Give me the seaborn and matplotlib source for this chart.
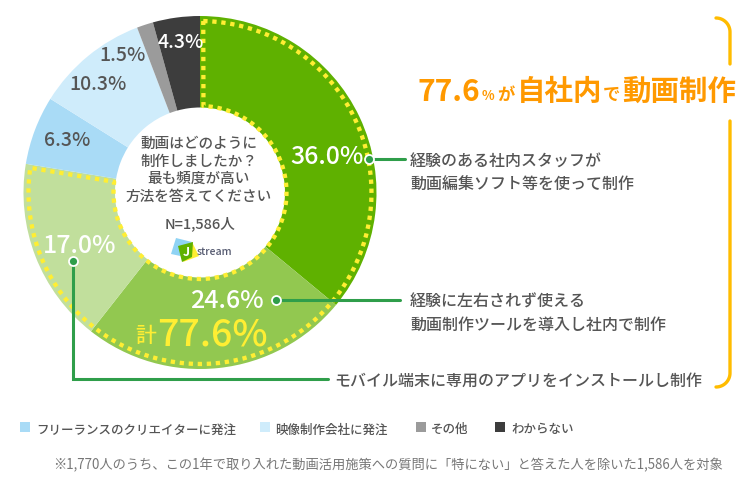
import numpy as np
import pandas as pd
import matplotlib
matplotlib.use('Agg')
import matplotlib.pyplot as plt
from matplotlib.patches import Polygon
import seaborn as sns

# values, clockwise from 12 o'clock
categories = ['経験のある社内スタッフ', 'ツール導入', 'モバイル端末アプリ', 'フリーランスのクリエイターに発注',
              '映像制作会社に発注', 'その他', 'わからない']
values = [36.0, 24.6, 17.0, 6.3, 10.3, 1.5, 4.3]
wedge_colors = ['#5fb100', '#92c850', '#c1df9c', '#a9dbf6', '#cfecfb', '#9b9b9b', '#3d3d3d']
in_house_share = 77.6

legend_labels = ['フリーランスのクリエイターに発注', '映像制作会社に発注', 'その他', 'わからない']
legend_colors = ['#a9dbf6', '#cfecfb', '#9b9b9b', '#3d3d3d']
question_lines = ['動画はどのように', '制作しましたか？', '最も頻度が高い', '方法を答えてください']

W, H = 753, 485
GRAY = '#555555'
GREEN = '#2f9e4a'
YELLOW = '#ffee33'
ORANGE = '#ff9900'
BRACKET = '#ffbc00'

sns.set_theme(style='white')
plt.rcParams['font.family'] = ['Noto Sans CJK JP', 'DejaVu Sans']

fig = plt.figure(figsize=(W / 100, H / 100), dpi=100, facecolor='white')

# Donut
cx, cy, R, r_in = 200, 193.5, 176.5, 85
ax_pie = fig.add_axes([(cx - R) / W, (H - cy - R) / H, 2 * R / W, 2 * R / H])
ax_pie.pie(values, colors=sns.color_palette(wedge_colors), startangle=90, counterclock=False,
           radius=1, wedgeprops={'width': 1 - r_in / R, 'linewidth': 0})
ax_pie.set_xlim(-1, 1)
ax_pie.set_ylim(-1, 1)

# Yellow dotted outline around the in-house wedges
end = np.deg2rad(in_house_share * 3.6)
r1, r2 = (R - 5) / R, (r_in + 1.5) / R
t_out = np.linspace(0.019, end - 0.019, 200)
t_in = np.linspace(end - 0.04, 0.04, 100)
px = np.r_[r1 * np.sin(t_out), r2 * np.sin(t_in)]
py = np.r_[r1 * np.cos(t_out), r2 * np.cos(t_in)]
px = np.r_[px, px[0]]
py = np.r_[py, py[0]]
ax_pie.plot(px, py, color=YELLOW, lw=3.1, dashes=(1, 1.1), dash_capstyle='butt')

# Overlay in pixel coordinates
ax = fig.add_axes([0, 0, 1, 1], facecolor='none')
ax.set_xlim(0, W)
ax.set_ylim(H, 0)
ax.axis('off')


def label(x, y, s, size, color=GRAY, weight='normal', ha='center'):
    # va=center sits a little high for this font, so push down with the size
    ax.text(x, y + size * 0.2, s, fontsize=size, color=color, fontweight=weight, ha=ha, va='center')


# Percent labels
label(327, 153, f'{values[0]:.1f}%', 18, 'white', 'medium')
label(227, 297, f'{values[1]:.1f}%', 18, 'white', 'medium')
label(80, 242, f'{values[2]:.1f}%', 18, 'white', 'medium')
label(67, 137.5, f'{values[3]:.1f}%', 14, GRAY, 'medium')
label(98, 82, f'{values[4]:.1f}%', 14, GRAY, 'medium')
label(123, 52.5, f'{values[5]:.1f}%', 14, GRAY, 'medium')
label(181, 40, f'{values[6]:.1f}%', 14, 'white', 'medium')
label(146, 333, '計', 15, YELLOW, 'medium')
label(212, 329, f'{in_house_share:.1f}%', 27, YELLOW, 'medium')

# Centre question
for y, line in zip([142, 160, 177, 195], question_lines):
    label(199, y, line, 10.5, GRAY, 'medium')
label(200, 222, 'N=1,586人', 10.5, GRAY, 'medium')

# Logo
ax.add_patch(Polygon([(176, 239), (171, 255), (185, 258), (192, 243)], color='#8fd3f4', lw=0))
ax.add_patch(Polygon([(192, 243), (199, 257), (183, 263)], color=YELLOW, lw=0))
ax.add_patch(Polygon([(178, 247), (193, 243), (192, 258), (182, 263)], color='#5fb100', lw=0))
label(186, 251, 'J', 9, 'white', 'bold')
ax.text(197, 252, 'stream', fontsize=7.6, color='#555a70', fontweight='medium', ha='left', va='center')

# Leaders
ax.plot([369, 405], [160, 160], color=GREEN, lw=2.2)
ax.plot([276, 400], [301, 301], color=GREEN, lw=2.2)
ax.plot([73, 73, 328], [262, 380, 380], color=GREEN, lw=2.2, solid_joinstyle='miter')
dots = pd.DataFrame({'x': [369, 276, 73], 'y': [160, 301, 262]})
sns.scatterplot(data=dots, x='x', y='y', ax=ax, s=42, color=GREEN, edgecolor='white', linewidth=1.3,
                legend=False, zorder=5)
ax.set_xlim(0, W)
ax.set_ylim(H, 0)

# Right hand labels
label(410, 160, '経験のある社内スタッフが', 11.5, GRAY, 'medium', 'left')
label(410, 183, '動画編集ソフト等を使って制作', 11.5, GRAY, 'medium', 'left')
label(410, 300, '経験に左右されず使える', 11.5, GRAY, 'medium', 'left')
label(410, 323, '動画制作ツールを導入し社内で制作', 11.5, GRAY, 'medium', 'left')
label(334, 379, 'モバイル端末に専用のアプリをインストールし制作', 11.5, GRAY, 'medium', 'left')

# Headline
label(418, 88, f'{in_house_share:.1f}', 21.5, ORANGE, 'bold', 'left')
label(482, 94, '%', 9.5, ORANGE, 'bold', 'left')
label(497, 92, 'が', 12.5, ORANGE, 'bold', 'left')
label(517, 88, '自社内', 20.5, ORANGE, 'bold', 'left')
label(603, 92, 'で', 12.5, ORANGE, 'bold', 'left')
label(622, 88, '動画制作', 20.5, ORANGE, 'bold', 'left')

# Bracket
arc = np.linspace(0, np.pi / 2, 20)
ax.plot(np.r_[716 + 14 * np.sin(arc), 730], np.r_[33 - 14 * np.cos(arc), 65], color=BRACKET, lw=2.4)
ax.plot(np.r_[730, 716 + 14 * np.cos(arc)], np.r_[122, 374 + 14 * np.sin(arc)], color=BRACKET, lw=2.4)

# Legend
legend_df = pd.DataFrame({'x': [25, 265, 421, 500], 'y': [428] * 4, 'label': legend_labels})
sns.scatterplot(data=legend_df, x='x', y='y', hue='label', palette=legend_colors, marker='s', s=48,
                linewidth=0, ax=ax, legend=False)
ax.set_xlim(0, W)
ax.set_ylim(H, 0)
ax.axis('off')
for x, s in zip([36, 275, 431, 511], legend_labels):
    label(x, 428, s, 9, GRAY, 'medium', 'left')

label(53, 463, '※1,770人のうち、この1年で取り入れた動画活用施策への質問に「特にない」と答えた人を除いた1,586人を対象',
      9.55, '#777777', 'normal', 'left')

fig.savefig('out.png', dpi=100, facecolor='white')
